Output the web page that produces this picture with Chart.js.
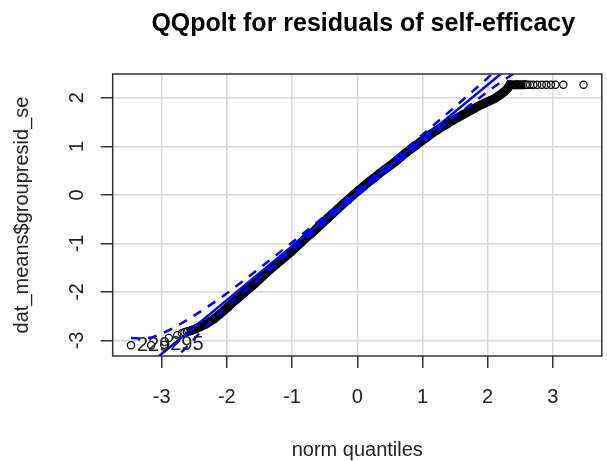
<!DOCTYPE html>
<html><head><meta charset="utf-8">
<script src="https://cdn.jsdelivr.net/npm/chart.js@4"></script>
<style>html,body{margin:0;padding:0;background:#fff}#wrap{width:607px;height:461px}</style>
</head><body><div id="wrap"><canvas id="c" width="607" height="461"></canvas></div>
<script>
// ---- data ----
const xTicks = [-3, -2, -1, 0, 1, 2, 3];
const yTicks = [-3, -2, -1, 0, 1, 2];

// dense part of the sample (norm quantile, residual)
const bandX = [-2.61,-2.55,-2.48,-2.40,-2.33,-2.27,-2.20,-2.12,-2.05,-1.98,-1.92,-1.85,-1.78,-1.71,-1.64,-1.57,-1.49,-1.41,-1.33,-1.25,-1.17,-1.10,-1.02,-0.94,-0.86,-0.78,-0.70,-0.62,-0.54,-0.46,-0.38,-0.30,-0.22,-0.14,-0.06,0.02,0.10,0.18,0.26,0.34,0.42,0.50,0.58,0.66,0.74,0.82,0.90,0.98,1.06,1.14,1.22,1.30,1.38,1.46,1.54,1.62,1.70,1.78,1.86,1.94,2.02,2.10,2.18,2.25,2.31,2.34,2.45,2.58];
const bandY = [-2.82,-2.80,-2.76,-2.71,-2.67,-2.62,-2.56,-2.47,-2.39,-2.31,-2.23,-2.15,-2.07,-1.99,-1.91,-1.83,-1.73,-1.63,-1.53,-1.44,-1.35,-1.27,-1.18,-1.08,-0.98,-0.88,-0.79,-0.69,-0.59,-0.49,-0.39,-0.29,-0.19,-0.10,0.00,0.09,0.18,0.27,0.35,0.44,0.52,0.60,0.68,0.77,0.86,0.94,1.02,1.10,1.18,1.26,1.33,1.40,1.46,1.53,1.59,1.65,1.71,1.77,1.83,1.88,1.93,1.98,2.05,2.12,2.20,2.27,2.27,2.27];

// sparse tail points
const tailX = [-3.47,-3.16,-2.96,-2.89,-2.76,-2.69,-2.65,2.61,2.65,2.70,2.76,2.83,2.90,2.97,3.04,3.16,3.47];
const tailY = [-3.10,-3.10,-3.09,-2.95,-2.89,-2.85,-2.83,2.27,2.27,2.27,2.27,2.27,2.27,2.27,2.27,2.27,2.27];

// reference line and 95% envelope
const fitX = [-3.75, 3.75];
const fitY = [-4.11, 4.21];
const envX = [-3.47,-3.30,-3.16,-3.00,-2.80,-2.60,-2.40,-2.20,-2.00,-1.50,-1.00,-0.50,0.00,0.50,1.00,1.50,2.00,2.20,2.40,2.60];
const envUpper = [-2.95,-2.96,-2.94,-2.86,-2.73,-2.57,-2.40,-2.22,-2.03,-1.515,-0.98,-0.44,0.112,0.67,1.24,1.815,2.41,2.66,2.92,3.21];
const envLower = [-4.65,-4.26,-3.98,-3.70,-3.39,-3.11,-2.82,-2.56,-2.31,-1.715,-1.14,-0.57,-0.012,0.54,1.08,1.615,2.13,2.32,2.50,2.67];

// identified points
const idX = [-3.47, -2.96];
const idY = [-3.10, -3.09];
const idText = ['229', '295'];

const TITLE = 'QQpolt for residuals of self-efficacy';
const FAMILY = '"Liberation Sans", Arial, Helvetica, sans-serif';
const pts = (xs, ys) => xs.map((v, i) => ({x: v, y: ys[i]}));

const boxPlugin = {
  id: 'box',
  afterDraw(chart) {
    const {ctx, chartArea: a} = chart;
    ctx.save();
    ctx.strokeStyle = '#333';
    ctx.lineWidth = 1.5;
    ctx.strokeRect(a.left, a.top, a.right - a.left, a.bottom - a.top);
    ctx.restore();
  }
};
const titlePlugin = {
  id: 'mainTitle',
  afterDraw(chart) {
    const {ctx, chartArea: a} = chart;
    ctx.save();
    ctx.font = 'bold 25px ' + FAMILY;
    ctx.fillStyle = '#000';
    ctx.textAlign = 'center';
    ctx.textBaseline = 'middle';
    ctx.fillText(TITLE, (a.left + a.right) / 2 + 6, 24.5);
    ctx.restore();
  }
};
const idPlugin = {
  id: 'ids',
  afterDatasetsDraw(chart) {
    const {ctx, scales: {x, y}} = chart;
    ctx.save();
    ctx.font = '20px ' + FAMILY;
    ctx.fillStyle = '#222';
    ctx.textBaseline = 'middle';
    ctx.textAlign = 'left';
    idText.forEach((t, i) => ctx.fillText(t, x.getPixelForValue(idX[i]) + 6, y.getPixelForValue(idY[i])));
    ctx.restore();
  }
};

new Chart(document.getElementById('c'), {
  type: 'scatter',
  data: {
    datasets: [
      {data: pts(fitX, fitY), showLine: true, borderColor: '#0000ff', borderWidth: 2.5, pointRadius: 0, clip: 0},
      {data: pts(envX, envUpper), showLine: true, borderColor: '#0000ff', borderWidth: 2.5, borderDash: [9, 8], pointRadius: 0, clip: 0},
      {data: pts(envX, envLower), showLine: true, borderColor: '#0000ff', borderWidth: 2.5, borderDash: [9, 8], pointRadius: 0, clip: 0},
      {data: pts(bandX, bandY), showLine: true, borderColor: '#000', borderWidth: 9,
       pointRadius: 3.8, pointBorderWidth: 1.2, pointBorderColor: '#000', pointBackgroundColor: 'rgba(0,0,0,0)', clip: 0},
      {data: pts(tailX, tailY), showLine: false,
       pointRadius: 3.6, pointBorderWidth: 1.2, pointBorderColor: '#000', pointBackgroundColor: 'rgba(0,0,0,0)', clip: 0}
    ]
  },
  options: {
    responsive: false,
    animation: false,
    devicePixelRatio: 1,
    layout: {padding: {left: 0, right: 3.3, top: 74, bottom: 0}},
    plugins: {
      legend: {display: false},
      tooltip: {enabled: false},
      title: {display: false}
    },
    scales: {
      x: {
        type: 'linear', min: -3.75, max: 3.75,
        afterBuildTicks: s => { s.ticks = xTicks.map(v => ({value: v})); },
        afterFit: s => { s.height = 105; },
        grid: {color: '#d9d9d9', lineWidth: 1.5, tickLength: 12, tickColor: '#333', tickWidth: 1.5},
        border: {display: false},
        ticks: {color: '#222', font: {family: FAMILY, size: 20}, padding: 17, maxRotation: 0, autoSkip: false},
        title: {display: true, text: 'norm quantiles', color: '#222', font: {family: FAMILY, size: 20, lineHeight: 1.1}, padding: 0}
      },
      y: {
        type: 'linear', min: -3.32, max: 2.49,
        afterBuildTicks: s => { s.ticks = yTicks.map(v => ({value: v})); },
        afterFit: s => { s.width = 112.7; },
        grid: {color: '#d9d9d9', lineWidth: 1.5, tickLength: 12, tickColor: '#333', tickWidth: 1.5},
        border: {display: false},
        ticks: {color: '#222', font: {family: FAMILY, size: 20}, padding: 14.8, minRotation: 90, maxRotation: 90, crossAlign: 'center', autoSkip: false},
        title: {display: true, text: 'dat_means$groupresid_se', color: '#222', font: {family: FAMILY, size: 20, lineHeight: 1.2}, padding: {top: 10, bottom: 0}}
      }
    }
  },
  plugins: [boxPlugin, titlePlugin, idPlugin]
});
</script>
</body></html>
